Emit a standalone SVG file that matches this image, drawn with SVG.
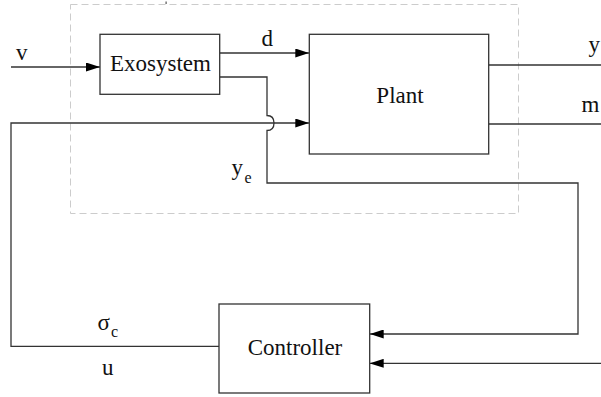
<svg xmlns="http://www.w3.org/2000/svg" width="601" height="397" viewBox="0 0 601 397">
<defs>
<marker id="arr" markerWidth="14" markerHeight="9" refX="14" refY="4.5" orient="auto" markerUnits="userSpaceOnUse">
<path d="M0,0 L14,4.5 L0,9 Z" fill="#000"/>
</marker>
<style>
.box{fill:#fff;stroke:#333;stroke-width:1.3}
.ln{fill:none;stroke:#333;stroke-width:1.3}
.lbl{font-family:"Liberation Serif","Times New Roman",serif;font-size:23px;fill:#111}
.sub{font-family:"Liberation Serif","Times New Roman",serif;font-size:16px;fill:#111}
</style>
</defs>
<rect width="601" height="397" fill="#fff"/>
<rect x="70.5" y="4.5" width="448" height="209" fill="none" stroke="#ccc" stroke-width="1" stroke-dasharray="7 4"/>
<rect x="165.5" y="1.5" width="1.2" height="2.5" fill="#555"/>
<g id="connectors">
<line class="ln" x1="11" y1="67" x2="100" y2="67" marker-end="url(#arr)"/>
<line class="ln" x1="219.7" y1="53" x2="309.3" y2="53" marker-end="url(#arr)"/>
<path class="ln" d="M219.7,77 H267 V115.5 C272,115.5 274,118 274,123 C274,128 272,130.5 267,130.5 V183 H578 V334 H369.7" marker-end="url(#arr)"/>
<path class="ln" d="M219,346.3 H11 V123 H309.3" marker-end="url(#arr)"/>
<line class="ln" x1="488.7" y1="65" x2="601" y2="65"/>
<line class="ln" x1="488.7" y1="124" x2="601" y2="124"/>
<line class="ln" x1="601" y1="363.3" x2="369.7" y2="363.3" marker-end="url(#arr)"/>
</g>
<g id="exosystem">
<rect class="box" x="100" y="34.3" width="119.7" height="60"/>
<text class="lbl" x="160.5" y="71" text-anchor="middle">Exosystem</text>
</g>
<g id="plant">
<rect class="box" x="309.3" y="34.3" width="179.4" height="119.7"/>
<text class="lbl" x="400" y="103" text-anchor="middle">Plant</text>
</g>
<g id="controller">
<rect class="box" x="219" y="304" width="150.7" height="89"/>
<text class="lbl" x="295" y="355" text-anchor="middle">Controller</text>
</g>
<g id="labels">
<text class="lbl" x="16" y="60">v</text>
<text class="lbl" x="261.5" y="46">d</text>
<text class="lbl" x="588.5" y="52">y</text>
<text class="lbl" x="581.5" y="112">m</text>
<text class="lbl" x="231.5" y="175">y</text>
<text class="sub" x="244.5" y="183">e</text>
<text class="lbl" x="97.5" y="330">σ</text>
<text class="sub" x="111" y="337">c</text>
<text class="lbl" x="102" y="375">u</text>
</g>
</svg>
